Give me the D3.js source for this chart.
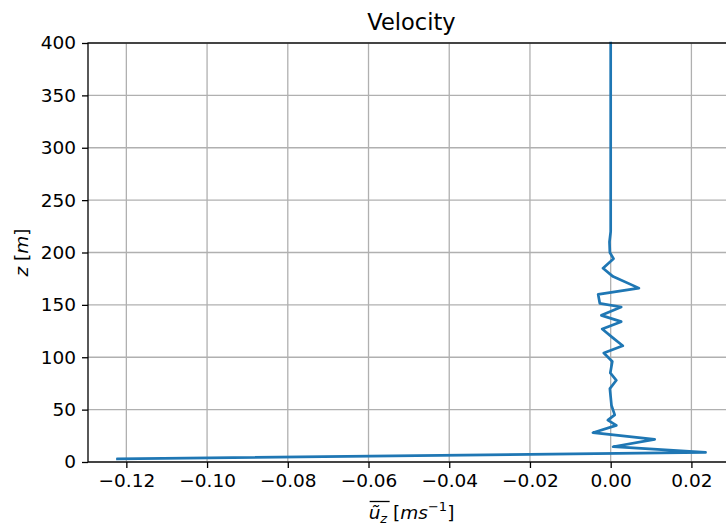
<!doctype html>
<html lang='en'>
<head>
<meta charset='UTF-8'>
<title>Velocity</title>
<style>
  body { margin: 0; background: #fff; }
  svg { display: block; font-family: 'DejaVu Sans', sans-serif; }
</style>
</head>
<body>
<script src='https://d3js.org/d3.v7.min.js'></script>
<script>
  // height above ground (m) and mean vertical velocity (m/s)
  const zVals = [2.9, 9.2, 14.6, 21.6, 28, 35, 40, 45, 54, 62, 70, 78, 85, 96, 104, 111,
                 119, 127, 134, 140, 148, 151.5, 160, 166, 177, 185, 194, 200, 210, 220, 400]
  const uVals = [-0.1222, 0.0235, 0.0006, 0.0109, -0.0044, 0.0014, -0.0007, 0.001, 0.0002, 0.0, -0.0002, 0.0014, -0.0001, 0.0004, -0.0017, 0.003,
                 0.0004, -0.0021, 0.0026, -0.0023, 0.0026, -0.0027, -0.0031, 0.007, 0.0006, -0.0019, 0.0007, -0.0002, -0.0003, 0.0, 0.0]
  const xTicks = [-0.12, -0.10, -0.08, -0.06, -0.04, -0.02, 0.00, 0.02]
  const yTicks = [0, 50, 100, 150, 200, 250, 300, 350, 400]

  const W = 726, H = 526
  const m = { left: 88, top: 43, right: 735, bottom: 462 }

  const x = d3.scaleLinear().domain([-0.1295, 0.0308]).range([m.left, m.right])
  const y = d3.scaleLinear().domain([0, 400]).range([m.bottom, m.top])

  const svg = d3.select('body').append('svg')
    .attr('width', W).attr('height', H)

  // grid
  svg.append('g').selectAll('line').data(xTicks).enter().append('line')
    .attr('x1', d => x(d)).attr('x2', d => x(d))
    .attr('y1', m.top).attr('y2', m.bottom)
    .attr('stroke', '#b0b0b0').attr('stroke-width', 1.3)
  svg.append('g').selectAll('line').data(yTicks).enter().append('line')
    .attr('x1', m.left).attr('x2', m.right)
    .attr('y1', d => y(d)).attr('y2', d => y(d))
    .attr('stroke', '#b0b0b0').attr('stroke-width', 1.3)

  // the profile
  const pts = zVals.map((z, i) => [uVals[i], z])
  svg.append('path')
    .datum(pts)
    .attr('d', d3.line().x(d => x(d[0])).y(d => y(d[1])))
    .attr('fill', 'none')
    .attr('stroke', '#1f77b4')
    .attr('stroke-width', 2.7)
    .attr('stroke-linejoin', 'round')
    .attr('stroke-linecap', 'square')

  // axes
  const fmtX = d => (d < 0 ? '\u2212' : '') + Math.abs(d).toFixed(2)
  const xAxis = svg.append('g')
    .attr('transform', `translate(0,${m.bottom})`)
    .call(d3.axisBottom(x).tickValues(xTicks).tickFormat(fmtX).tickSize(6).tickPadding(6))
  const yAxis = svg.append('g')
    .attr('transform', `translate(${m.left},0)`)
    .call(d3.axisLeft(y).tickValues(yTicks).tickSize(6).tickPadding(6))
  for (const g of [xAxis, yAxis]) {
    g.select('.domain').remove()
    g.selectAll('.tick line').attr('stroke', '#000').attr('stroke-width', 1.3)
    g.selectAll('.tick text').attr('fill', '#000')
      .style('font-size', '18.5px').style('font-family', "'DejaVu Sans', sans-serif")
  }

  // spines (right one is outside the picture)
  svg.append('rect')
    .attr('x', m.left).attr('y', m.top)
    .attr('width', m.right - m.left).attr('height', m.bottom - m.top)
    .attr('fill', 'none').attr('stroke', '#000').attr('stroke-width', 1.3)

  // title
  svg.append('text')
    .attr('x', (m.left + m.right) / 2).attr('y', 30)
    .attr('text-anchor', 'middle')
    .style('font-size', '22.5px')
    .text('Velocity')

  // y label: z [m]
  const yl = svg.append('text')
    .attr('transform', `translate(28,${(m.top + m.bottom) / 2}) rotate(-90)`)
    .attr('text-anchor', 'middle')
    .style('font-size', '18.5px')
  yl.append('tspan').style('font-style', 'italic').text('z')
  yl.append('tspan').text(' [')
  yl.append('tspan').style('font-style', 'italic').text('m')
  yl.append('tspan').text(']')

  // x label: overline(tilde u_z) [m s^-1]
  const xl = svg.append('g')
  const xt = xl.append('text')
    .attr('x', 0).attr('y', 519)
    .style('font-size', '18.5px')
  xt.append('tspan').style('font-style', 'italic').text('u\u0303')
  xt.append('tspan').style('font-style', 'italic').style('font-size', '13px').attr('dy', 4).text('z')
  xt.append('tspan').attr('dy', -4).text(' [')
  xt.append('tspan').style('font-style', 'italic').text('ms')
  xt.append('tspan').style('font-size', '13px').attr('dy', -8).text('\u22121')
  xt.append('tspan').attr('dy', 8).text(']')
  const tw = xt.node().getComputedTextLength()
  const x0 = (m.left + m.right) / 2 - tw / 2
  xt.attr('x', x0)
  xl.append('line')
    .attr('x1', x0 + 1).attr('x2', x0 + 21)
    .attr('y1', 501.5).attr('y2', 501.5)
    .attr('stroke', '#000').attr('stroke-width', 1.3)
</script>
</body>
</html>
